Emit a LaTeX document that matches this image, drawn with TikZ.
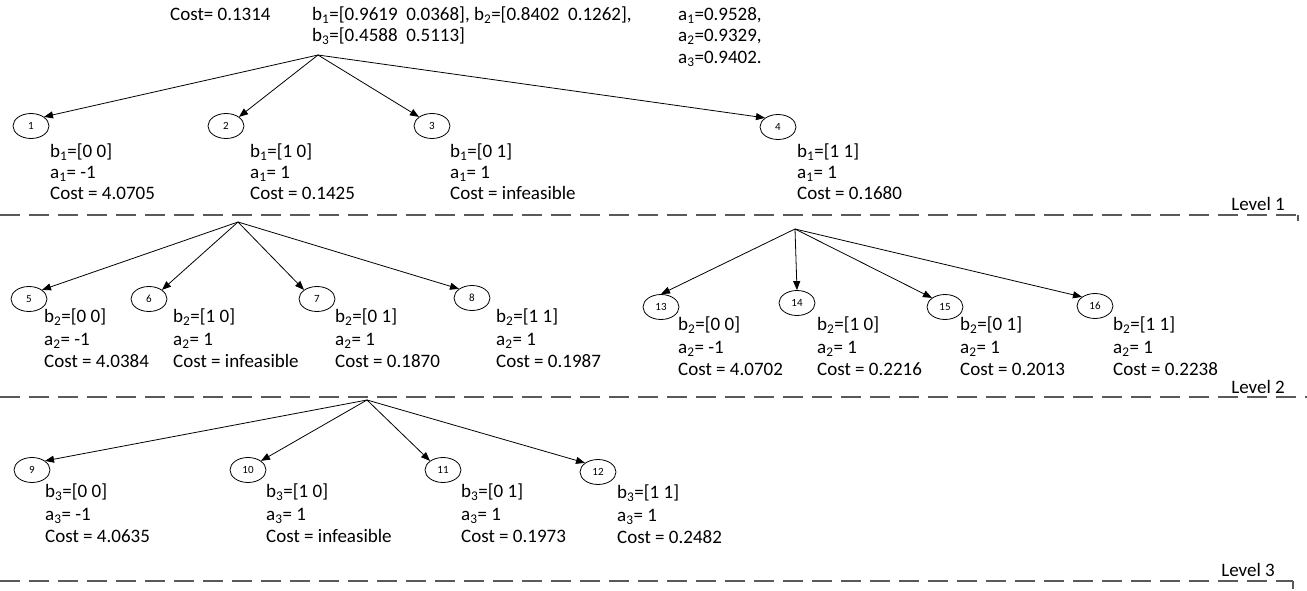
\documentclass[tikz,border=0pt]{standalone}
\usepackage{fontspec}
\setmainfont{Carlito}
\usetikzlibrary{arrows.meta,shapes.geometric}
\definecolor{dashgray}{RGB}{89,89,89}
\newcommand{\sbs}[1]{\textsubscript{#1}}
\tikzset{
 num/.style={draw, ellipse, line width=0.8pt, minimum width=36pt, minimum height=25pt, inner sep=0pt, font=\fontsize{11}{13}\selectfont},
 info/.style={anchor=north west, align=left, inner sep=0pt, font=\fontsize{19}{22.5}\selectfont},
 infoa/.style={info, font=\fontsize{19}{21}\selectfont},
 txt/.style={anchor=base west, inner sep=0pt, font=\fontsize{19}{22}\selectfont},
 lvltxt/.style={anchor=base east, inner sep=0pt, font=\fontsize{19}{22}\selectfont},
 arr/.style={-{Triangle[length=9pt,width=7pt]}, line width=0.8pt},
 lvl/.style={draw=dashgray, line width=1.6pt, dash pattern=on 20pt off 9pt},
 tick/.style={draw=dashgray, line width=1.6pt},
}
\begin{document}
\begin{tikzpicture}[x=1pt,y=-1pt]
\useasboundingbox (0,0) rectangle (1307,591);

% top texts
\node[txt] (tcost) at (170,20.5) {Cost= 0.1314};
\node[txt] (tb1) at (312,20.5) {b\sbs{1}=[0.9619\ \ 0.0368], b\sbs{2}=[0.8402\ \ 0.1262],};
\node[txt] (tb3) at (312,41.5) {b\sbs{3}=[0.4588\ \ 0.5113]};
\node[txt] (ta1) at (678,20.5) {a\sbs{1}=0.9528,};
\node[txt] (ta2) at (678,42) {a\sbs{2}=0.9329,};
\node[txt] (ta3) at (678,63.5) {a\sbs{3}=0.9402.};

% level 1
\coordinate (r1) at (318,55);
\node[num] (n1) at (31,126) {1};
\node[num] (n2) at (226,126) {2};
\node[num] (n3) at (432,126) {3};
\node[num] (n4) at (778,127) {4};
\draw[arr] (r1) -- (n1.north east);
\draw[arr] (r1) -- (n2.north east);
\draw[arr] (r1) -- (n3.north west);
\draw[arr] (r1) -- (n4.north west);
\node[infoa] (l1) at (50,144) {b\sbs{1}=[0 0]\\a\sbs{1}= -1\\Cost = 4.0705};
\node[infoa] (l2) at (250,144) {b\sbs{1}=[1 0]\\a\sbs{1}= 1\\Cost = 0.1425};
\node[infoa] (l3) at (450,144) {b\sbs{1}=[0 1]\\a\sbs{1}= 1\\Cost = infeasible};
\node[infoa] (l4) at (797,144) {b\sbs{1}=[1 1]\\a\sbs{1}= 1\\Cost = 0.1680};

\draw[lvl] (0,215) -- (1298,215);
\draw[tick] (1298,215) -- (1298,221);
\node[lvltxt] (lev1) at (1285,210) {Level 1};

% level 2 left
\coordinate (r2) at (238,222);
\node[num] (n5) at (29,299) {5};
\node[num] (n6) at (149,299) {6};
\node[num] (n7) at (317,299) {7};
\node[num] (n8) at (472,298) {8};
\draw[arr] (r2) -- (n5.north east);
\draw[arr] (r2) -- (n6.north east);
\draw[arr] (r2) -- (n7.north west);
\draw[arr] (r2) -- (n8.north west);
\node[info] (l5) at (44,309) {b\sbs{2}=[0 0]\\a\sbs{2}= -1\\Cost = 4.0384};
\node[info] (l6) at (173,309) {b\sbs{2}=[1 0]\\a\sbs{2}= 1\\Cost = infeasible};
\node[info] (l7) at (335,309) {b\sbs{2}=[0 1]\\a\sbs{2}= 1\\Cost = 0.1870};
\node[info] (l8) at (496,309) {b\sbs{2}=[1 1]\\a\sbs{2}= 1\\Cost = 0.1987};

% level 2 right
\coordinate (r3) at (795,229);
\node[num] (n13) at (661,307) {13};
\node[num] (n14) at (797,303) {14};
\node[num] (n15) at (945,307) {15};
\node[num] (n16) at (1095,306) {16};
\draw[arr] (r3) -- (n13.north);
\draw[arr] (r3) -- (n14.north);
\draw[arr] (r3) -- (n15.north west);
\draw[arr] (r3) -- (n16.north west);
\node[info] (l13) at (678,317) {b\sbs{2}=[0 0]\\a\sbs{2}= -1\\Cost = 4.0702};
\node[info] (l14) at (817,317) {b\sbs{2}=[1 0]\\a\sbs{2}= 1\\Cost = 0.2216};
\node[info] (l15) at (960,317) {b\sbs{2}=[0 1]\\a\sbs{2}= 1\\Cost = 0.2013};
\node[info] (l16) at (1113,317) {b\sbs{2}=[1 1]\\a\sbs{2}= 1\\Cost = 0.2238};

\draw[lvl] (0,397) -- (1307,397);
\node[lvltxt] (lev2) at (1285,393) {Level 2};

% level 3
\coordinate (r4) at (367,400);
\node[num] (n9) at (32,470) {9};
\node[num] (n10) at (248,470) {10};
\node[num] (n11) at (443,470) {11};
\node[num] (n12) at (598,472) {12};
\draw[arr] (r4) -- (n9.north east);
\draw[arr] (r4) -- (n10.north east);
\draw[arr] (r4) -- (n11.north west);
\draw[arr] (r4) -- (n12.north west);
\node[info] (l9) at (45,484) {b\sbs{3}=[0 0]\\a\sbs{3}= -1\\Cost = 4.0635};
\node[info] (l10) at (266,484) {b\sbs{3}=[1 0]\\a\sbs{3}= 1\\Cost = infeasible};
\node[info] (l11) at (461,484) {b\sbs{3}=[0 1]\\a\sbs{3}= 1\\Cost = 0.1973};
\node[info] (l12) at (617,485) {b\sbs{3}=[1 1]\\a\sbs{3}= 1\\Cost = 0.2482};

\draw[lvl] (0,581) -- (1293,581);
\draw[tick] (1293,581) -- (1293,589);
\node[lvltxt] (lev3) at (1275,576) {Level 3};
\end{tikzpicture}
\end{document}
